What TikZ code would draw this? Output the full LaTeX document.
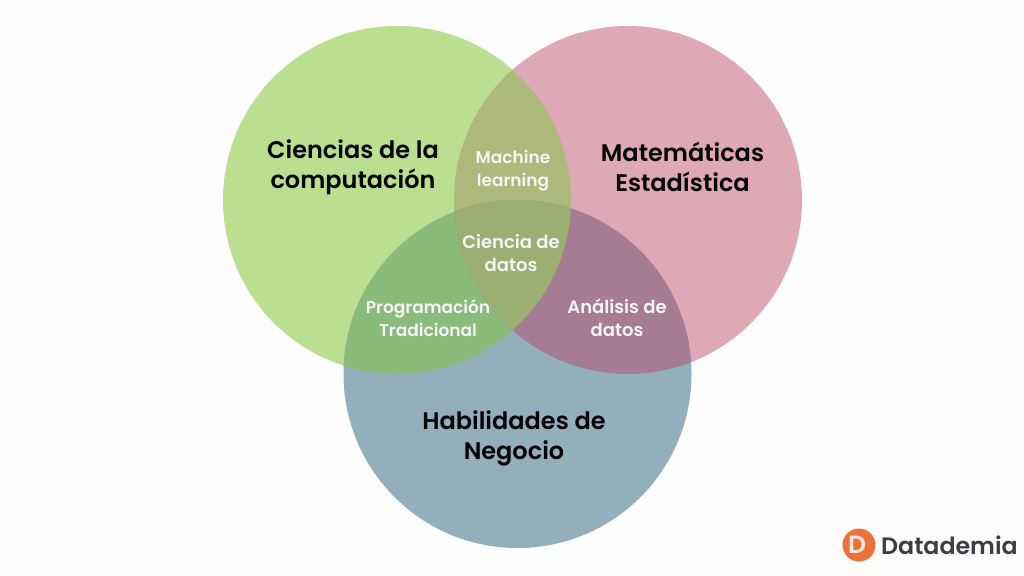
\documentclass[tikz,border=0pt]{standalone}
\usepackage{fontspec}
\setmainfont{Poppins}[BoldFont={Poppins SemiBold}]
\definecolor{cgreen}{HTML}{BBDF91}
\definecolor{cpink}{HTML}{DFA8B7}
\definecolor{cblue}{HTML}{93AFBC}
\definecolor{cgp}{HTML}{ADB97A}
\definecolor{cgb}{HTML}{8ABB7B}
\definecolor{cpb}{HTML}{A67C92}
\definecolor{cgpb}{HTML}{9BAF72}
\definecolor{corange}{HTML}{EC7238}
\definecolor{cdark}{HTML}{3A3F45}
\tikzset{
  big/.style={font=\fontsize{24}{30}\selectfont\bfseries, text=black, align=center, inner sep=0pt},
  small/.style={font=\fontsize{17}{22.5}\selectfont\bfseries, text=white!96!black, align=center, inner sep=0pt},
  smallw/.style={small, font=\fontsize{18}{22.5}\selectfont\bfseries},
}
\begin{document}
\begin{tikzpicture}[x=1pt,y=-1pt]
\useasboundingbox (0,0) rectangle (1024,575);
\fill[white!99.5!black] (0,0) rectangle (1024,575);
\def\cg{(397,200) circle[radius=174]}
\def\cp{(628,200) circle[radius=174]}
\def\cb{(517.5,374) circle[radius=174]}
\fill[cgreen] \cg;
\fill[cpink] \cp;
\fill[cblue] \cb;
\begin{scope}\clip \cg; \fill[cgp] \cp; \end{scope}
\begin{scope}\clip \cg; \fill[cgb] \cb; \end{scope}
\begin{scope}\clip \cp; \fill[cpb] \cb; \end{scope}
\begin{scope}\clip \cg; \clip \cp; \fill[cgpb] \cb; \end{scope}
\node[big] (cc) at (353,167.5) {Ciencias de la\\computación};
\node[big] (me) at (682.5,166.5) {Matemáticas\\Estadística};
\node[big] (hn) at (514,438) {Habilidades de\\Negocio};
\node[small] (ml) at (513,170.5) {Machine\\learning};
\node[smallw] (cd) at (511,253) {Ciencia de\\datos};
\node[small] (pt) at (428,318) {Programación\\Tradicional};
\node[smallw] (ad) at (617,318) {Análisis de\\datos};
\fill[corange] (859,545) circle[radius=16.5];
\node[font=\fontsize{25}{25}\selectfont\bfseries, text=white!85!corange, inner sep=0pt] (logoD) at (857,545) {D};
\node[font=\fontsize{23.7}{24}\selectfont\bfseries, text=cdark, anchor=west, inner sep=0pt] (logoT) at (881,545) {Datademia};
\end{tikzpicture}
\end{document}
